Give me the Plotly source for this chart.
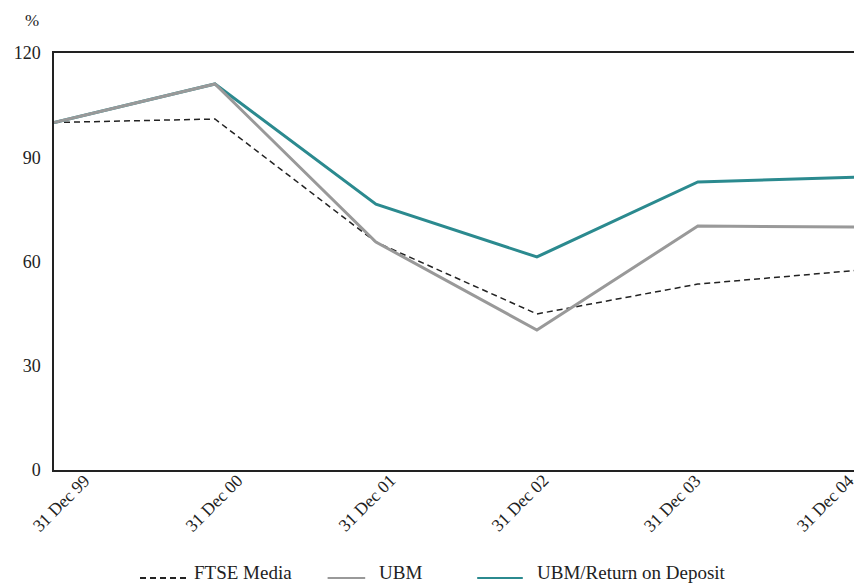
import plotly.graph_objects as go

categories = ["31 Dec 99", "31 Dec 00", "31 Dec 01", "31 Dec 02", "31 Dec 03", "31 Dec 04"]
ftse_media = [100, 101, 65.6, 44.9, 53.5, 57.5]
ubm = [100, 111.1, 65.6, 40.3, 70.2, 69.9]
ubm_deposit = [100, 111.1, 76.5, 61.3, 82.9, 84.3]
y_ticks = [0, 30, 60, 90, 120]

FONT = "Liberation Serif, Times New Roman, serif"
TXT = "#222222"
xpos = list(range(len(categories)))
X_MAX = 4.97
# label layout (paper fractions): first label centre and step between labels
LABEL_START = 0.009
LABEL_STEP = 0.191

series = [
    ("FTSE Media", ftse_media, dict(color="#222222", width=1.5, dash="6px,4px")),
    ("UBM/Return on Deposit", ubm_deposit, dict(color="#2b8a8f", width=3)),
    ("UBM", ubm, dict(color="#999999", width=3)),
]

fig = go.Figure()
for name, vals, line in series:
    fig.add_trace(go.Scatter(x=xpos, y=vals, mode="lines", name=name, line=line,
                             showlegend=False))

annotations = []
for i, c in enumerate(categories):
    annotations.append(dict(text=c, x=LABEL_START + LABEL_STEP * i, y=-0.079,
                            xref="paper", yref="paper",
                            showarrow=False, textangle=-45, xanchor="center",
                            yanchor="middle", font=dict(family=FONT, size=17.5, color=TXT)))
annotations.append(dict(text="%", x=-0.0275, y=1.079, xref="paper", yref="paper",
                        showarrow=False, xanchor="center", yanchor="middle",
                        font=dict(family=FONT, size=17, color=TXT)))

# custom legend
legend_items = [
    ("FTSE Media", 0.1075, 0.168, 0.172, dict(color="#222222", width=2, dash="6px,4px")),
    ("UBM", 0.342, 0.389, 0.404, dict(color="#999999", width=2)),
    ("UBM/Return on Deposit", 0.529, 0.586, 0.601, dict(color="#2b8a8f", width=2)),
]
shapes = []
for name, x0, x1, xt, line in legend_items:
    shapes.append(dict(type="line", xref="paper", yref="paper", x0=x0, x1=x1,
                       y0=-0.259, y1=-0.259, line=line))
    annotations.append(dict(text=name, x=xt, y=-0.247, xref="paper", yref="paper",
                            showarrow=False, xanchor="left", yanchor="middle",
                            font=dict(family=FONT, size=19, color=TXT)))

fig.update_layout(
    width=854, height=583,
    margin=dict(l=54, r=0, t=53, b=113),
    paper_bgcolor="white", plot_bgcolor="white",
    font=dict(family=FONT, size=15, color=TXT),
    showlegend=False,
    xaxis=dict(range=[0, X_MAX], tickmode="array", tickvals=xpos, showticklabels=False,
               showgrid=False, zeroline=False, showline=True,
               linecolor="#222222", linewidth=1.5, mirror=True, ticks=""),
    yaxis=dict(range=[0, 120], tickmode="array", tickvals=y_ticks, showgrid=False,
               zeroline=False, showline=True, linecolor="#222222", linewidth=1.5,
               ticks="", ticklabelstandoff=8,
               tickfont=dict(family=FONT, size=18, color=TXT)),
    annotations=annotations,
    shapes=shapes,
)

fig.write_html("out.html")
